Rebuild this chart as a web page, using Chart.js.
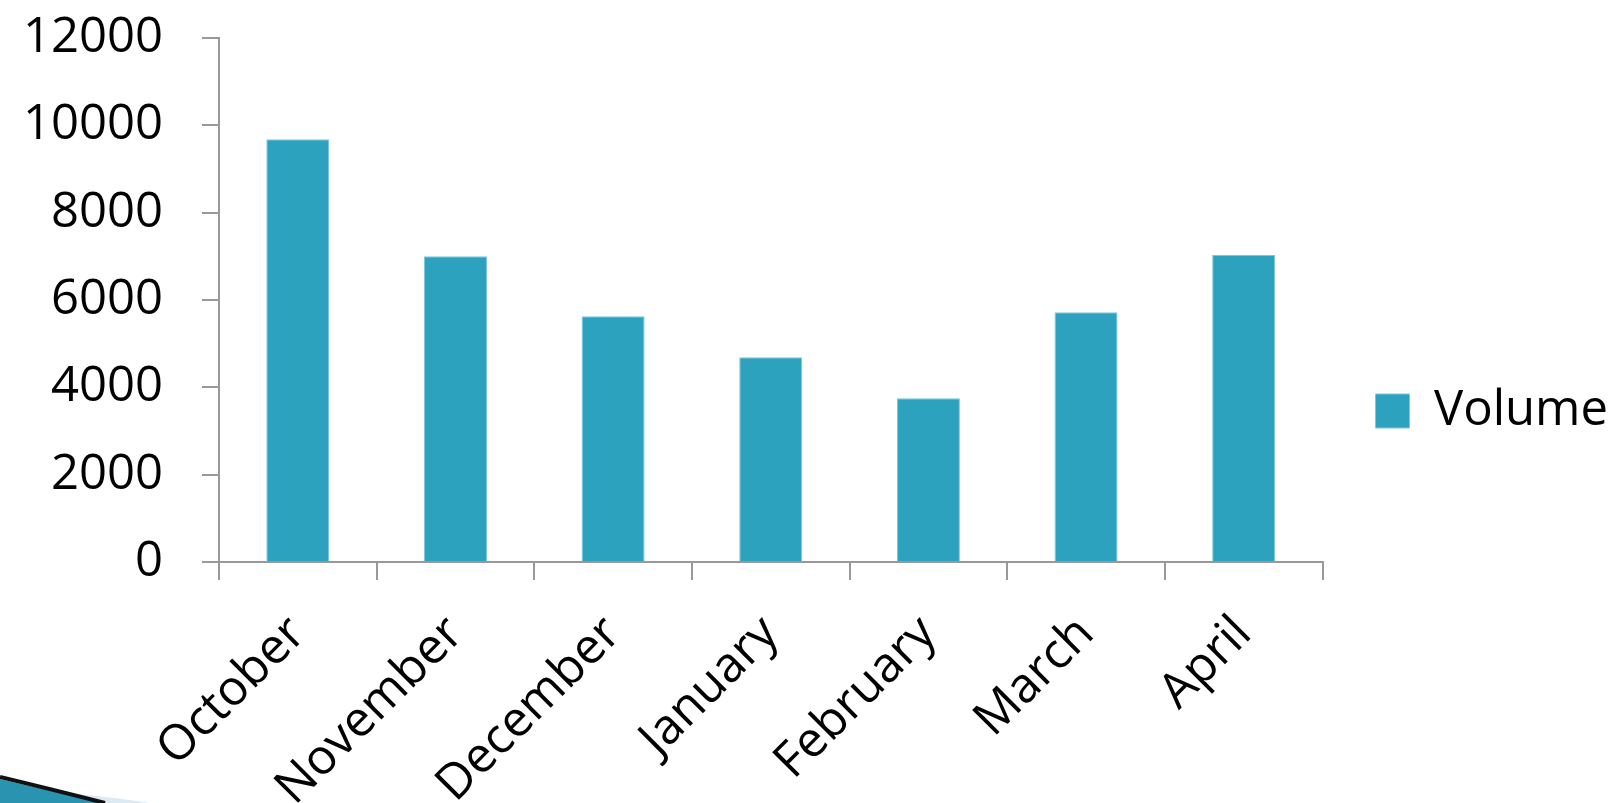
<!DOCTYPE html>
<html>
<head>
<meta charset="utf-8">
<script src="https://cdn.jsdelivr.net/npm/chart.js@4.4.1/dist/chart.umd.min.js"></script>
<style>
  html, body { margin: 0; padding: 0; background: #fff; overflow: hidden; }
  #wrap { position: relative; width: 1611px; height: 803px; }
</style>
</head>
<body>
<div id="wrap"><canvas id="grafico" width="1611" height="803"></canvas></div>
<script>
const meses = ['October', 'November', 'December', 'January', 'February', 'March', 'April'];
const volume = [9680, 7000, 5630, 4690, 3750, 5720, 7030];
const serieNome = 'Volume';
const yMax = 12000;
const yPasso = 2000;

const COR_BARRA = '#2ca2bf';
const COR_EIXO = '#999999';
const FONTE = "'Open Sans', 'Noto Sans', sans-serif";

// enfeite do slide no canto inferior esquerdo
const enfeite = {
  id: 'enfeite',
  afterDraw(chart) {
    const c = chart.ctx;
    const h = chart.height;
    c.save();
    // brilho claro
    c.beginPath();
    c.moveTo(40, h - 12);
    c.quadraticCurveTo(100, h - 8, 150, h);
    c.lineTo(60, h);
    c.closePath();
    c.fillStyle = 'rgba(200,220,235,0.6)';
    c.fill();
    // cunha azul
    c.beginPath();
    c.moveTo(0, h - 24);
    c.quadraticCurveTo(50, h - 12, 105, h);
    c.lineTo(0, h);
    c.closePath();
    c.fillStyle = '#2a93b0';
    c.fill();
    // borda preta
    c.beginPath();
    c.moveTo(0, h - 26);
    c.quadraticCurveTo(50, h - 14, 105, h);
    c.strokeStyle = '#111';
    c.lineWidth = 4;
    c.stroke();
    c.restore();
  }
};

const ctx = document.getElementById('grafico').getContext('2d');
new Chart(ctx, {
  type: 'bar',
  data: {
    labels: meses,
    datasets: [{
      label: serieNome,
      data: volume,
      backgroundColor: COR_BARRA,
      borderColor: '#7cc8dc',
      borderWidth: 1,
      categoryPercentage: 0.8,
      barPercentage: 0.5
    }]
  },
  options: {
    responsive: false,
    animation: false,
    layout: { padding: { top: 0, right: -7, bottom: -19, left: 0 } },
    plugins: {
      tooltip: { enabled: false },
      legend: {
        position: 'right',
        labels: {
          color: '#000',
          font: { family: FONTE, size: 49 },
          boxWidth: 34,
          boxHeight: 34,
          padding: 53
        }
      }
    },
    scales: {
      x: {
        grid: { drawOnChartArea: false, color: COR_EIXO, lineWidth: 2, tickLength: 18 },
        border: { color: COR_EIXO, width: 2 },
        ticks: {
          color: '#000',
          font: { family: FONTE, size: 49 },
          minRotation: 45,
          maxRotation: 45,
          padding: 25,
          autoSkip: false
        },
        afterFit(scale) { scale.height = 260; }
      },
      y: {
        min: 0,
        max: yMax,
        grid: { drawOnChartArea: false, color: COR_EIXO, lineWidth: 2, tickLength: 17 },
        border: { color: COR_EIXO, width: 2 },
        ticks: {
          stepSize: yPasso,
          color: '#000',
          font: { family: FONTE, size: 49 },
          padding: 39,
          callback: value => String(value)
        },
        afterFit(scale) {
          scale.width = 219;
          scale.paddingTop = 38;
          scale.paddingBottom = 0;
        }
      }
    }
  },
  plugins: [enfeite]
});
</script>
</body>
</html>
